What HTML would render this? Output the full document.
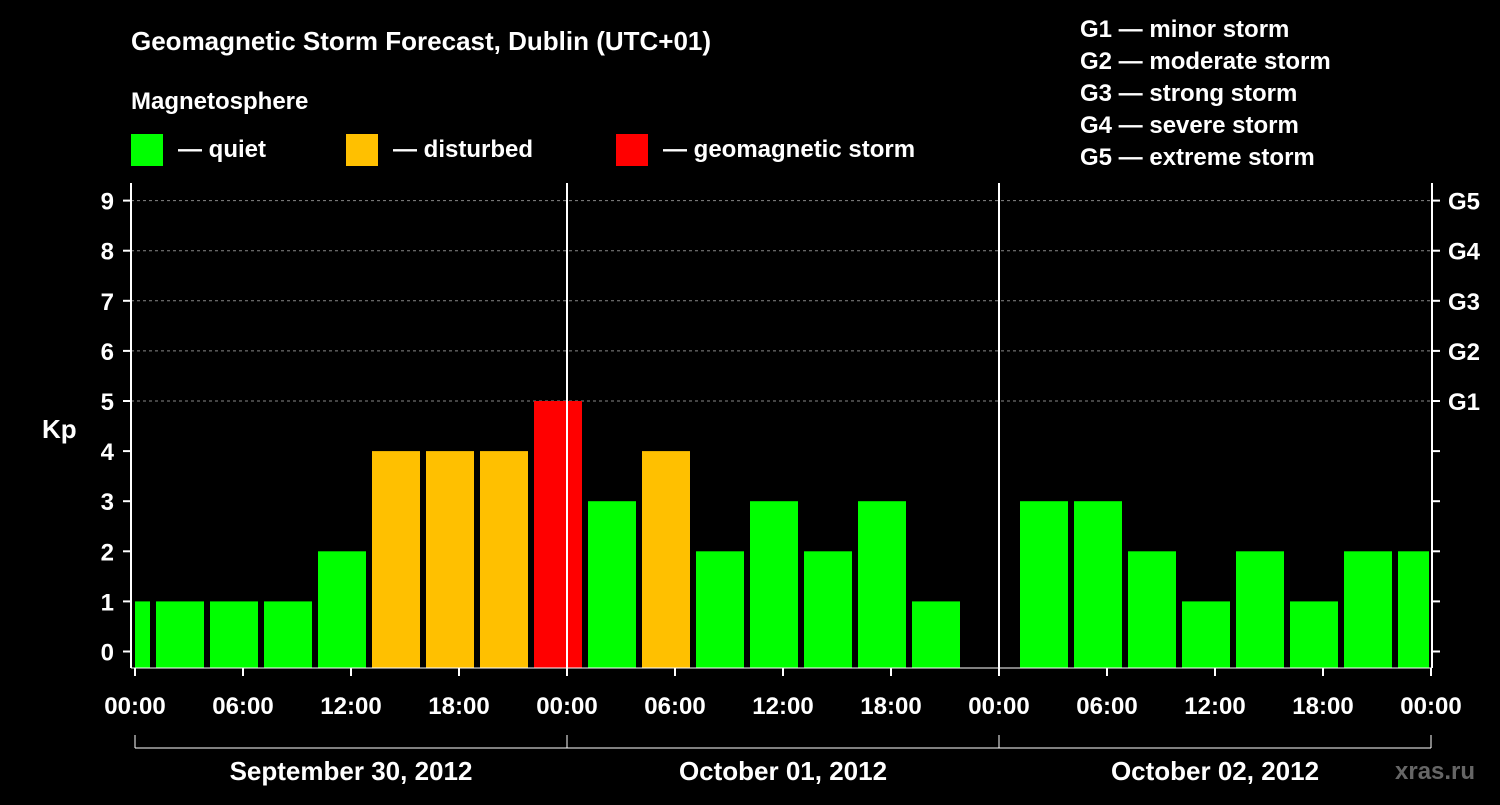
<!DOCTYPE html>
<html><head><meta charset="utf-8"><style>
body{margin:0;background:#000;}
svg text{font-family:"Liberation Sans",Arial,sans-serif;font-weight:bold;fill:#fff;}
</style></head><body>
<svg id="chart" width="1500" height="800" viewBox="0 0 1500 800">
<rect width="1500" height="800" fill="#000"/>
<text x="131" y="50" font-size="26">Geomagnetic Storm Forecast, Dublin (UTC+01)</text>
<text x="131" y="109" font-size="24">Magnetosphere</text>
<g>
<rect x="131" y="134" width="32" height="32" fill="#00ff00"/>
<text x="178" y="157" font-size="24">— quiet</text>
<rect x="346" y="134" width="32" height="32" fill="#ffc000"/>
<text x="393" y="157" font-size="24">— disturbed</text>
<rect x="616" y="134" width="32" height="32" fill="#ff0000"/>
<text x="663" y="157" font-size="24">— geomagnetic storm</text>
</g>
<g font-size="24">
<text x="1080" y="37">G1 — minor storm</text>
<text x="1080" y="69">G2 — moderate storm</text>
<text x="1080" y="101">G3 — strong storm</text>
<text x="1080" y="133">G4 — severe storm</text>
<text x="1080" y="165">G5 — extreme storm</text>
</g>
<g id="plot"></g>
<text x="42" y="438" font-size="26">Kp</text>
<text x="1395" y="779" font-size="24" fill="#666" style="fill:#666">xras.ru</text>
</svg>
<script>
const kpValues=[1,1,1,1,2,4,4,4,5,3,4,2,3,2,3,1,null,3,3,2,1,2,1,2,2];
const yTicks=[0,1,2,3,4,5,6,7,8,9];
const gLabels=["G1","G2","G3","G4","G5"];
const gLevels=[5,6,7,8,9];
const xTickLabels=["00:00","06:00","12:00","18:00","00:00","06:00","12:00","18:00","00:00","06:00","12:00","18:00","00:00"];
const dayLabels=["September 30, 2012","October 01, 2012","October 02, 2012"];
const L=131,R=1432,T=183,B=668,X0=135,HOUR=18,OFFSET=-2;
const NS="http://www.w3.org/2000/svg";
const g=document.getElementById('plot');
function y(v){return 651.5-50.1*v;}
function x(h){return X0+h*HOUR;}
function mk(t,a,txt){const e=document.createElementNS(NS,t);for(const k in a)e.setAttribute(k,a[k]);if(txt!=null)e.textContent=txt;g.appendChild(e);return e;}
// grid
gLevels.forEach((v,i)=>{
 const l=mk('line',{x1:L,x2:R,y1:y(v),y2:y(v),stroke:'#888','stroke-dasharray':'3,3','stroke-width':1});
 
 
 const t=mk('text',{x:1448,y:y(v)+9,'font-size':24},gLabels[i]);
 
 
});
// bars
kpValues.forEach((v,i)=>{
 if(v==null)return;
 let a=x(OFFSET+3*i)+3,b=x(OFFSET+3*i+3)-3;
 a=Math.max(a,X0);b=Math.min(b,R-3);
 const c=v>=5?'#ff0000':(v>=4?'#ffc000':'#00ff00');
 const r=mk('rect',{x:a,y:y(v),width:b-a,height:B-y(v),fill:c});
 
 
});
// axes
[[L,T,L,B],[R,T,R,B],[x(24),T,x(24),B],[x(48),T,x(48),B]].forEach(p=>{
 const l=mk('line',{x1:p[0],y1:p[1],x2:p[2],y2:p[3],stroke:'#fff','stroke-width':2});
 
 
});
mk('line',{x1:L,x2:R,y1:B,y2:B,stroke:'#fff','stroke-width':1});
yTicks.forEach(v=>{
 mk('line',{x1:L-8,x2:L,y1:y(v),y2:y(v),stroke:'#fff','stroke-width':2});
 mk('line',{x1:R,x2:R+8,y1:y(v),y2:y(v),stroke:'#fff','stroke-width':2});
 const t=mk('text',{x:114,y:y(v)+9,'font-size':24,'text-anchor':'end'},String(v));
 
 
});
xTickLabels.forEach((s,i)=>{
 const xx=x(6*i);
 mk('line',{x1:xx,x2:xx,y1:B,y2:B+8,stroke:'#fff','stroke-width':2});
 const t=mk('text',{x:xx,y:714,'font-size':24,'text-anchor':'middle'},s);
 
 
});
mk('line',{x1:X0,x2:x(72),y1:748,y2:748,stroke:'#fff','stroke-width':1});
[0,24,48,72].forEach(h=>mk('line',{x1:x(h),x2:x(h),y1:735,y2:748,stroke:'#fff','stroke-width':1}));
dayLabels.forEach((s,i)=>{
 const t=mk('text',{x:x(24*i+12),y:780,'font-size':26,'text-anchor':'middle'},s);
 
 
});
</script>
</body></html>
